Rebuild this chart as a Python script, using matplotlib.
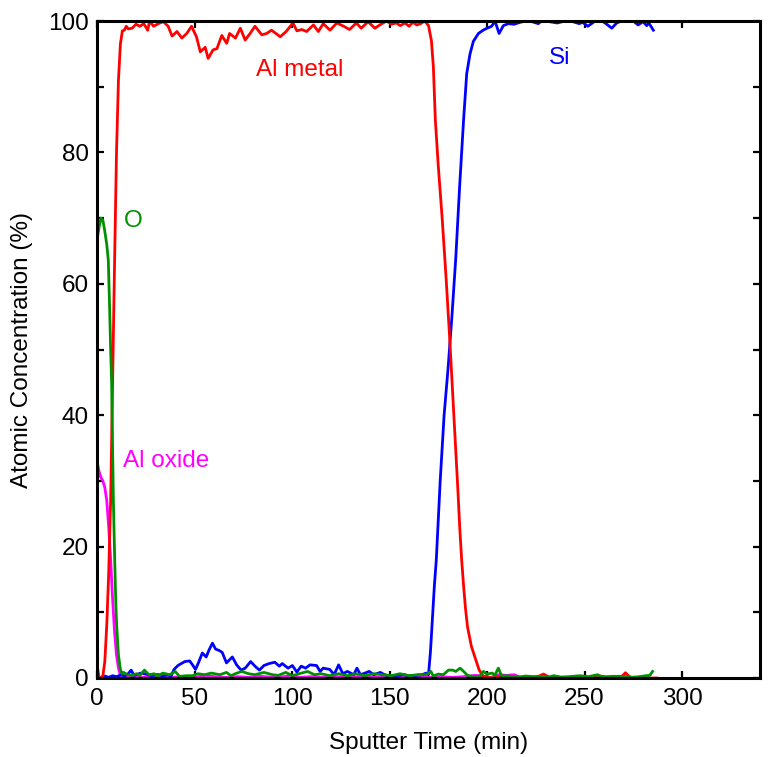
import matplotlib
matplotlib.use("Agg")
import matplotlib.pyplot as plt
from matplotlib.ticker import MultipleLocator

plt.rcParams['font.family'] = ['Liberation Sans', 'DejaVu Sans']

# Al metal (red)
al_t = [0, 1, 2, 3, 4, 5, 6, 7, 8, 9, 10, 11, 12, 13, 14, 15, 16, 18, 20, 22, 24, 26, 27, 29,
        31.5, 34, 36.5, 38.5, 41, 43.5, 46, 48.5, 51, 53, 55.5, 57, 59.5, 61.5, 64, 66.5, 68,
        71, 73.5, 76, 78.5, 81, 84.5, 87, 89.5, 94, 97, 100.5, 102.5, 105, 107.5, 111, 113.5,
        116, 119.5, 123, 126.5, 129.5, 133, 135.5, 139, 142.5, 145, 148.5, 151, 153.5, 155.5,
        158, 160, 162, 164, 166, 168, 170, 171.5, 172.5, 173.5, 175, 177, 179, 181, 183, 185,
        186, 187, 188, 189, 190, 192, 194, 196, 198, 200, 202, 206, 210, 214, 218, 222, 226,
        229, 232, 236, 240, 244, 248, 252, 256, 258, 262, 266, 269, 271, 273, 276, 280, 284, 287]
al_v = [2, 0.2, 0, 0.3, 2.5, 8, 16, 27, 45, 63, 80, 91, 96.5, 98.5, 98.6, 99.2, 98.8, 98.9,
        99.5, 99.2, 99.6, 98.6, 100, 99.2, 99.6, 99.9, 99.2, 97.7, 98.4, 97.4, 98.1, 99.2, 97.6,
        95.3, 96.0, 94.3, 95.6, 95.8, 97.8, 96.6, 98.1, 97.4, 98.9, 97.1, 98.1, 99.2, 97.9, 98.1,
        98.6, 97.6, 98.4, 99.7, 98.5, 98.7, 98.4, 99.4, 98.4, 99.6, 98.6, 99.7, 99.2, 98.7,
        99.7, 98.9, 99.9, 98.9, 99.4, 100, 99.5, 99.7, 99.3, 99.7, 99.2, 99.8, 99.4, 99.6, 100,
        99.3, 97, 93, 85, 78, 70, 61, 51, 40, 29, 23, 18, 14, 10.5, 7.8, 4.8, 3, 1.2, 0.3, 0.1, 0,
        0.2, 0, 0.1, 0, 0.1, 0.2, 0.6, 0.1, 0, 0.1, 0, 0.2, 0, 0.1, 0.3, 0.1, 0, 0.2, 0.8, 0.2,
        0, 0.1, 0, 0]

# Si (blue)
si_t = [0, 2, 4, 6, 8, 10, 12.5, 14, 16, 17.5, 19, 22.5, 25, 28, 31.5, 34, 36, 38, 39.5, 41.5,
        45, 47.5, 49, 50.5, 52, 54, 56, 57.5, 59.2, 60.8, 62.6, 64.2, 66.4, 69.4, 71.6, 73.9,
        76, 78.8, 81, 83.3, 85.6, 88.3, 91.2, 93.5, 95, 98, 100.2, 102.5, 104.7, 107, 109.2,
        112.6, 114.4, 116, 119.4, 121.6, 123.9, 126.1, 128.4, 131.7, 133.3, 135.1, 137, 139.6,
        141.9, 145.3, 147.5, 150.9, 154, 157.6, 160, 162, 166.6, 168.9, 170, 171, 172, 173, 174,
        176, 178, 180, 182, 184, 186, 188, 189.6, 191.3, 193, 195.6, 198, 200, 202.4, 204.1,
        206.2, 208.4, 211, 213.8, 217, 220, 223, 226.3, 228, 232, 236, 240, 244, 247.3, 249,
        251.7, 255, 259, 261, 264, 266.5, 269, 272, 275, 277.5, 280, 281.9, 283, 285.3]
si_v = [0, 0.1, 0.3, 0.1, 0.35, 0.2, 0.5, 0.3, 0.65, 1.2, 0.4, 0.75, 0.6, 0.35, 0.5, 0.3, 0.5,
        0.3, 1.3, 1.9, 2.5, 2.6, 2.0, 1.3, 2.3, 3.8, 3.2, 4.3, 5.3, 4.4, 4.2, 3.9, 2.3, 3.2, 2.0,
        1.2, 1.5, 2.5, 1.8, 1.2, 1.9, 2.2, 2.4, 1.8, 2.2, 1.5, 1.9, 0.9, 1.8, 1.5, 2.0, 1.9, 1.0,
        1.5, 1.3, 0.5, 2.0, 0.65, 1.0, 0.5, 1.5, 0.5, 0.7, 1.0, 0.5, 0.85, 0.5, 0.25, 0.4, 0.5,
        0.3, 0.35, 0.5, 0.75, 0.5, 4, 9, 14, 18, 30, 40, 47, 55, 64, 75, 85, 92, 95, 96.9, 98.1,
        98.6, 98.9, 99.2, 100, 98.1, 99.3, 99.6, 99.5, 99.8, 100, 99.9, 99.6, 100, 99.9, 99.7,
        100, 99.9, 99.6, 99.8, 99.2, 99.9, 100, 99.6, 98.9, 99.7, 100, 99.9, 100, 99.4, 99.9,
        99.3, 99.7, 98.6]

# O (green)
o_t = [0, 1, 2, 3, 4, 5, 5.8, 6.5, 7, 7.5, 8, 8.4, 9, 9.5, 10, 11, 12, 13, 13.5, 15.8, 18,
       20.3, 22, 24.3, 26.6, 29.3, 31, 33.8, 37.2, 40.1, 42.3, 46.2, 49, 51.8, 55.2, 58.6, 63,
       66.4, 68.7, 70.9, 74.3, 77.7, 81, 85.6, 90, 93, 96.8, 100.2, 103.6, 108, 111.5, 114.9,
       119.4, 123.9, 128.4, 132.9, 137.4, 141.9, 146.4, 150.9, 155.4, 159.9, 164.4, 168.9,
       171.2, 172.5, 175, 177.6, 180.2, 182.4, 184, 186.2, 188, 190, 193, 196, 198.1, 200,
       202.7, 204, 205.8, 207.6, 210.5, 213, 216.2, 220, 224, 227.4, 231, 234.2, 238, 242,
       247.7, 252, 256.7, 259, 264, 270.2, 274, 278, 281.5, 283.5, 284.9]
o_v = [66.7, 68.5, 70, 69.7, 68, 66, 63.6, 56, 50, 45, 35, 27, 19, 13, 8.5, 3.5, 1.3, 0.6, 0.86,
       0.5, 0.4, 0.65, 0.4, 1.2, 0.5, 0.65, 0.3, 0.75, 0.5, 1.0, 0.25, 0.35, 0.35, 0.65, 0.5,
       0.75, 0.5, 0.85, 0.35, 0.65, 1.0, 0.65, 0.5, 0.85, 0.5, 0.4, 0.85, 0.35, 0.65, 1.0, 0.5,
       0.65, 0.35, 0.65, 0.35, 0.65, 0.35, 0.65, 0.5, 0.35, 0.65, 0.35, 0.5, 0.5, 1.0, 0.3, 0.6,
       0.5, 1.2, 1.2, 1.0, 1.5, 1.0, 0.4, 0.2, 0.2, 1.0, 0.6, 0.75, 0.4, 1.5, 0.25, 0.35, 0.2,
       0.15, 0.3, 0.2, 0.25, 0.1, 0.35, 0.15, 0.2, 0.35, 0.2, 0.5, 0.15, 0.25, 0.25, 0.1, 0.2,
       0.35, 0.4, 1.0]

# Al oxide (magenta)
ox_t = [0, 1, 2, 3, 4, 5, 6, 7, 8, 9, 10, 11, 12, 13, 16, 20, 24, 28, 31, 34, 38, 44, 50, 56,
        60, 66, 72, 78, 84, 90, 96, 99, 104, 110, 116, 122, 128, 134, 140, 146, 152, 158, 164,
        170, 176, 182, 188, 194, 198, 202, 206, 210, 214, 217]
ox_v = [33, 31.5, 30.5, 30, 29, 27, 23, 18, 12, 7, 3.5, 1.5, 0.4, 0.2, 0.1, 0.2, 0.1, 0.3, 0.5,
        0.3, 0.1, 0.2, 0.1, 0.4, 0.2, 0.1, 0.2, 0.1, 0.25, 0.1, 0.2, 0.4, 0.1, 0.2, 0.1, 0.2,
        0.1, 0.2, 0.1, 0.15, 0.1, 0.2, 0.1, 0.1, 0.2, 0.1, 0.2, 0.4, 0.3, 0.1, 0.5, 0.4, 0.5, 0.1]

red = '#ff0000'
blue = '#0000ff'
green = '#009000'
magenta = '#ff00ff'

fig = plt.figure(figsize=(7.68, 7.57), dpi=100)
ax = fig.add_axes([97 / 768, 1 - 678 / 757, 663 / 768, 657 / 757])

lw = 2.0
ax.plot(ox_t, ox_v, color=magenta, lw=lw)
ax.plot(si_t, si_v, color=blue, lw=lw)
ax.plot(al_t, al_v, color=red, lw=lw)
ax.plot(o_t, o_v, color=green, lw=lw)

fs = 17.5
ax.text(104, 92.5, 'Al metal', color=red, fontsize=fs, ha='center', va='center')
ax.text(237.5, 94.3, 'Si', color=blue, fontsize=fs, ha='center', va='center')
ax.text(18.5, 69.5, 'O', color=green, fontsize=fs, ha='center', va='center')
ax.text(13.3, 33.0, 'Al oxide', color=magenta, fontsize=fs, ha='left', va='center')

ax.set_xlim(0, 340)
ax.set_ylim(0, 100)
ax.set_xticks([0, 50, 100, 150, 200, 250, 300])
ax.yaxis.set_major_locator(MultipleLocator(20))
ax.yaxis.set_minor_locator(MultipleLocator(10))

ax.tick_params(which='both', direction='in', top=True, right=True, length=5, width=1.6,
               labelsize=fs)
ax.tick_params(axis='x', pad=7)
ax.tick_params(axis='y', pad=6)
for s in ax.spines.values():
    s.set_linewidth(2.2)

ax.set_xlabel('Sputter Time (min)', fontsize=fs, labelpad=16)
ax.set_ylabel('Atomic Concentration (%)', fontsize=fs, labelpad=11)

fig.savefig('out.png', dpi=100)
